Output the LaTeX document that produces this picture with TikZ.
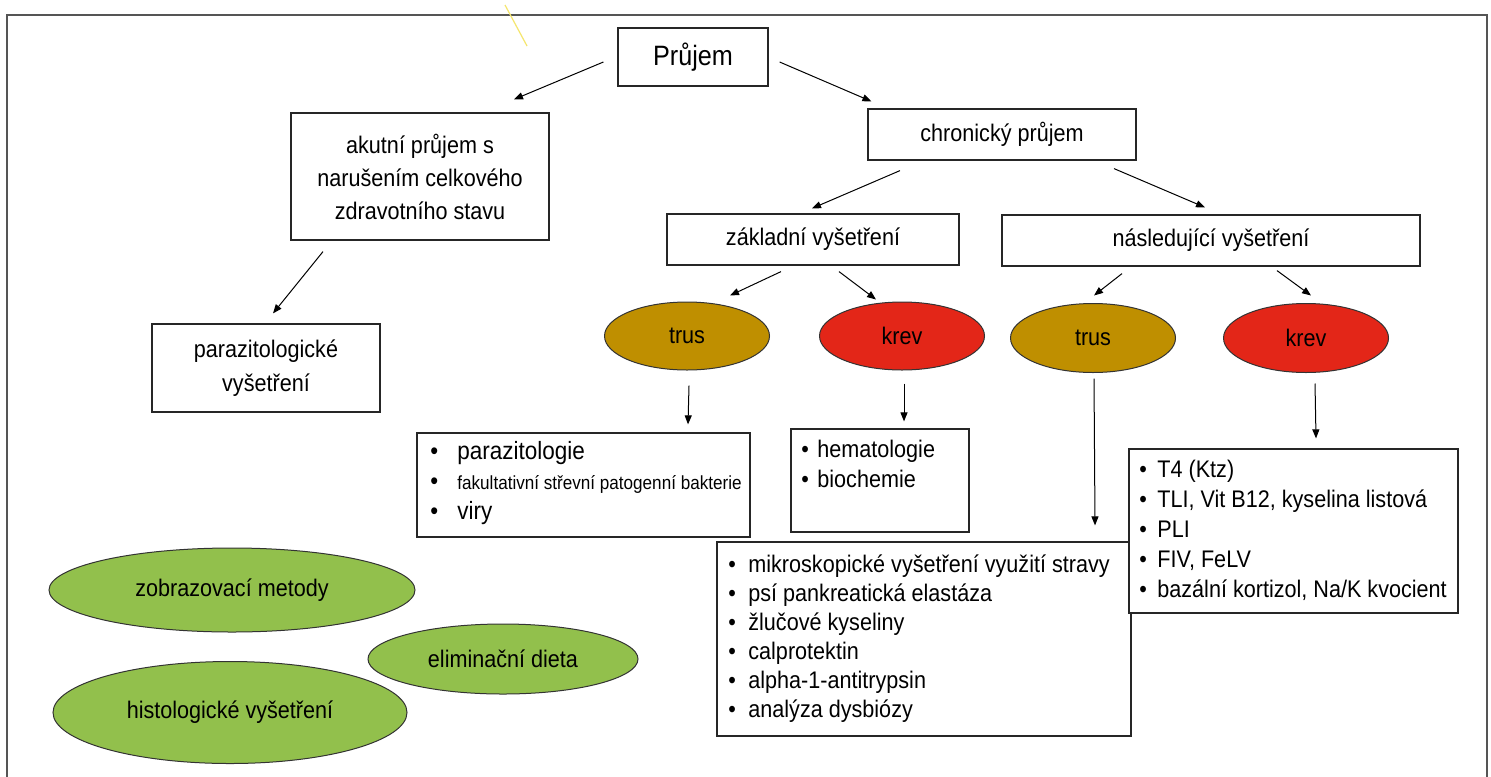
\documentclass[tikz,border=0pt]{standalone}
\usepackage{fontspec}
\setmainfont{Liberation Sans}[FakeStretch=0.9]
\usetikzlibrary{arrows.meta,shapes.geometric,calc}
\definecolor{trusc}{RGB}{191,143,0}
\definecolor{krevc}{RGB}{227,38,24}
\definecolor{greenc}{RGB}{146,192,76}
\definecolor{framec}{RGB}{85,85,85}
\definecolor{yellowc}{RGB}{245,230,110}
\newcommand\bl[1]{\makebox[#1][l]{\textbullet}}
\begin{document}
\begin{tikzpicture}[x=0.5pt,y=-0.5pt,
  box/.style={draw=black!85,line width=0.6pt,fill=white,inner sep=0pt,align=center,font=\fontsize{12}{16.5}\selectfont},
  oval/.style={ellipse,draw=black!80,line width=0.5pt,inner sep=0pt,font=\fontsize{12}{14}\selectfont},
  arr/.style={draw=black,line width=0.5pt,-{Triangle[length=4.5pt,width=3.5pt]}},
  listtext/.style={anchor=base west,inner sep=0pt}]
\useasboundingbox (0,0) rectangle (1491,776);
\fill[white] (0,0) rectangle (1491,776);
% frame
\draw[framec,line width=1pt] (7,800) -- (7,15) -- (1487,15) -- (1487,800);
\draw[yellowc,line width=0.6pt] (505,5) -- (527,46);

% top boxes
\node[box,font=\fontsize{14}{16}\selectfont,minimum width=75pt,minimum height=29pt] (prujem) at (693,57) {Průjem};
\node[box,minimum width=129pt,minimum height=63.5pt] (akut) at (420,176.5) {akutní průjem s\\narušením celkového\\zdravotního stavu};
\node[box,font=\fontsize{12}{17}\selectfont,minimum width=114pt,minimum height=44pt] (parazit) at (266,368) {parazitologické\\vyšetření};
\node[box,minimum width=134pt,minimum height=25.5pt] (chron) at (1002,134.5) {chronický průjem};
\node[box,minimum width=146pt,minimum height=25.5pt] (zakl) at (813,239.5) {základní vyšetření};
\node[box,minimum width=209pt,minimum height=25.5pt] (nasl) at (1211,240.5) {následující vyšetření};

% ovals
\node[oval,fill=trusc,minimum width=82.5pt,minimum height=34pt] (trusA) at (687,336) {trus};
\node[oval,fill=krevc,minimum width=82.5pt,minimum height=34pt] (krevA) at (902,336) {krev};
\node[oval,fill=trusc,minimum width=82.5pt,minimum height=34.5pt] (trusB) at (1093,338) {trus};
\node[oval,fill=krevc,minimum width=82.5pt,minimum height=34.5pt] (krevB) at (1306,338) {krev};

% green ellipses
\node[oval,fill=greenc,minimum width=183pt,minimum height=42pt] (zobr) at (232,590) {zobrazovací metody};
\node[oval,fill=greenc,minimum width=177pt,minimum height=51pt] (histo) at (230,712.5) {histologické vyšetření};
\node[oval,fill=greenc,minimum width=135pt,minimum height=35pt] (elim) at (503,659) {eliminační dieta};

% list boxes
\node[box,minimum width=166.5pt,minimum height=52pt] (listA) at (583.5,485) {};
\node[box,minimum width=89pt,minimum height=51.5pt] (listB) at (880,480.5) {};
\node[box,minimum width=207pt,minimum height=97pt] (listC) at (924,639) {};
\node[box,minimum width=164.5pt,minimum height=82pt] (listD) at (1293.5,531) {};

\node[listtext] (tA) at (430,459) {\fontsize{12.5}{15}\selectfont\begin{tabular}[t]{@{}l@{}}
\bl{13.5pt}parazitologie\\
\bl{13.5pt}{\fontsize{9.5}{12}\selectfont fakultativní střevní patogenní bakterie}\\
\bl{13.5pt}viry
\end{tabular}};
\node[listtext] (tB) at (801,457) {\fontsize{12}{15}\selectfont\begin{tabular}[t]{@{}l@{}}
\bl{8pt}hematologie\\
\bl{8pt}biochemie
\end{tabular}};
\node[listtext] (tC) at (728,572) {\fontsize{12}{14.5}\selectfont\begin{tabular}[t]{@{}l@{}}
\bl{10pt}mikroskopické vyšetření využití stravy\\
\bl{10pt}psí pankreatická elastáza\\
\bl{10pt}žlučové kyseliny\\
\bl{10pt}calprotektin\\
\bl{10pt}alpha-1-antitrypsin\\
\bl{10pt}analýza dysbiózy
\end{tabular}};
\node[listtext] (tD) at (1139,477) {\fontsize{12}{15.1}\selectfont\begin{tabular}[t]{@{}l@{}}
\bl{9pt}T4 (Ktz)\\
\bl{9pt}TLI, Vit B12, kyselina listová\\
\bl{9pt}PLI\\
\bl{9pt}FIV, FeLV\\
\bl{9pt}bazální kortizol, Na/K kvocient
\end{tabular}};

% connectors
\draw[arr] ($(prujem.west)+(-14,5)$) -- ($(akut.north)+(94,-13)$);
\draw[arr] ($(prujem.east)+(11,5)$) -- ($(chron.north west)+(4,-7)$);
\draw[arr] ($(akut.south)+(-97,11)$) -- ($(parazit.north)+(7,-10)$);
\draw[arr] ($(chron.south)+(-102,10)$) -- ($(zakl.north)+(-1,-5)$);
\draw[arr] ($(chron.south)+(112,8)$) -- ($(nasl.north)+(-6,-7)$);
\draw[arr] ($(zakl.south)+(-32,6)$) -- ($(trusA.north)+(43,-6)$);
\draw[arr] ($(zakl.south)+(26,6)$) -- ($(krevA.north)+(-26,-2)$);
\draw[arr] ($(nasl.south)+(-89,7)$) -- ($(trusB.north)+(1,-7.5)$);
\draw[arr] ($(nasl.south)+(66,4)$) -- ($(krevB.north)+(5,-7.5)$);
\draw[arr] ($(trusA.south)+(2,15)$) -- ($(listA.north)+(104.5,-8)$);
\draw[arr] ($(krevA.south)+(2,13)$) -- ($(listB.north)+(24,-7)$);
\draw[arr] ($(trusB.south)+(1,5.5)$) -- ($(listC.north)+(171,-16)$);
\draw[arr] ($(krevB.south)+(9,10.5)$) -- ($(listD.north)+(22.5,-10)$);
\end{tikzpicture}
\end{document}
